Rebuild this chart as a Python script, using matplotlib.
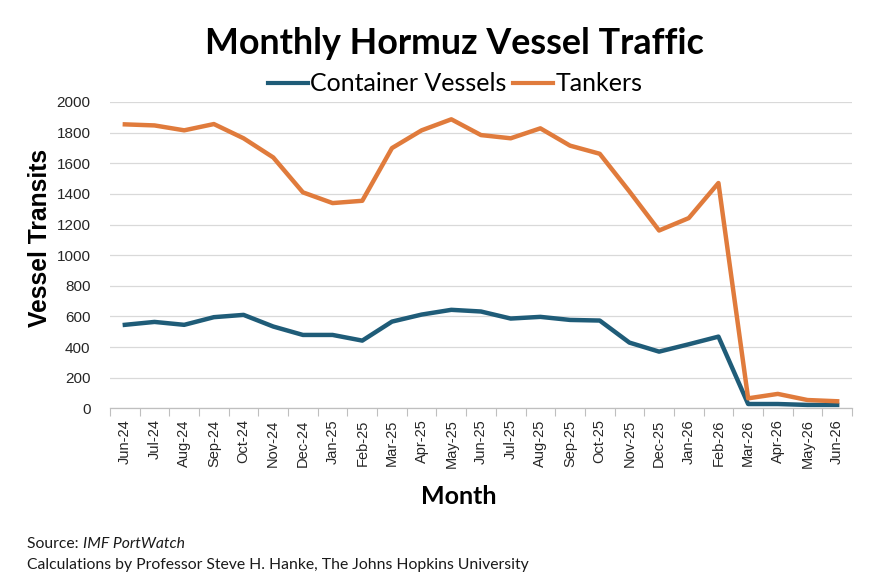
import matplotlib
matplotlib.use("Agg")
import matplotlib.pyplot as plt
import numpy as np

months = ["Jun-24", "Jul-24", "Aug-24", "Sep-24", "Oct-24", "Nov-24", "Dec-24",
          "Jan-25", "Feb-25", "Mar-25", "Apr-25", "May-25", "Jun-25", "Jul-25",
          "Aug-25", "Sep-25", "Oct-25", "Nov-25", "Dec-25", "Jan-26", "Feb-26",
          "Mar-26", "Apr-26", "May-26", "Jun-26"]
container = [545, 564, 545, 595, 610, 534, 479, 479, 442, 566, 612, 643, 632,
             586, 597, 577, 573, 429, 370, 418, 468, 28, 28, 22, 22]
tankers = [1854, 1847, 1815, 1856, 1763, 1638, 1410, 1340, 1355, 1699, 1815,
           1887, 1784, 1763, 1828, 1715, 1662, 1416, 1161, 1242, 1471, 65, 94,
           54, 46]
yticks = [0, 200, 400, 600, 800, 1000, 1200, 1400, 1600, 1800, 2000]

C_TEAL = "#1f5c78"
C_ORANGE = "#e07b3c"

fig = plt.figure(figsize=(8.84, 5.85), dpi=100)
ax = fig.add_axes([110/884, 1-408.3/585, (852-110)/884, (408.3-102)/585])

x = np.arange(len(months))
ax.plot(x, container, color=C_TEAL, lw=3.2, solid_joinstyle="round", label="Container Vessels")
ax.plot(x, tankers, color=C_ORANGE, lw=3.2, solid_joinstyle="round", label="Tankers")

ax.set_xlim(-0.5, len(months) - 0.5)
ax.set_ylim(0, 2000)
ax.set_yticks(yticks)
ax.set_yticklabels([str(v) for v in yticks], fontsize=11, family="Liberation Sans", color="#262626")
ax.tick_params(axis="y", length=0, pad=14)
ax.set_xticks(x)
ax.set_xticklabels(months, rotation=90, fontsize=10.5, family="Liberation Sans", color="#262626")
ax.tick_params(axis="x", which="major", length=0, pad=8)
ax.set_xticks(np.arange(-0.5, len(months)), minor=True)
ax.tick_params(axis="x", which="minor", length=6, color="#bfbfbf", width=0.8)
ax.grid(axis="y", color="#d9d9d9", lw=0.9)
ax.set_axisbelow(True)
for s in ["top", "right", "left"]:
    ax.spines[s].set_visible(False)
ax.spines["bottom"].set_color("#bfbfbf")
ax.spines["bottom"].set_linewidth(0.9)

fig.text(40/884, 1-238/585, "Vessel Transits", rotation=90, ha="center", va="center",
         fontsize=17.7, fontweight="bold", family="Liberation Sans", color="#000000")
fig.text(459/884, 1-496/585, "Month", ha="center", va="center",
         fontsize=18, fontweight="bold", family="Lato", color="#000000")

fig.text(454/884, 1-43/585, "Monthly Hormuz Vessel Traffic", ha="center", va="center",
         fontsize=25.8, fontweight="bold", family="Lato", color="#000000")

leg = fig.legend(loc="center", bbox_to_anchor=(455/884, 1-84/585), ncol=2, frameon=False,
                 prop={"family": "Lato", "size": 18}, handlelength=1.6, handletextpad=0.08,
                 columnspacing=0.3, borderaxespad=0, borderpad=0)
for h in leg.get_lines():
    h.set_linewidth(3.0)

t = fig.text(27/884, 1-544/585, "Source: ", ha="left", va="center", fontsize=11.3,
             family="Lato", color="#1a1a1a")
ax.annotate("IMF PortWatch", xy=(1, 0), xycoords=t, va="bottom", ha="left",
            fontsize=11.3, family="Lato", style="italic", color="#1a1a1a")
fig.text(27/884, 1-565/585, "Calculations by Professor Steve H. Hanke, The Johns Hopkins University",
         ha="left", va="center", fontsize=11.3, family="Lato", color="#1a1a1a")

fig.savefig("out.png", dpi=100)
